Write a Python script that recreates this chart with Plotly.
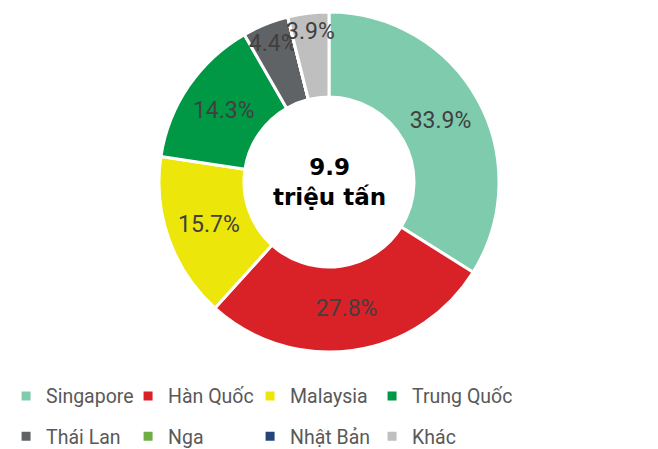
import plotly.graph_objects as go

categories = ["Singapore", "Hàn Quốc", "Malaysia", "Trung Quốc", "Thái Lan", "Nga", "Nhật Bản", "Khác"]
shares = [33.9, 27.8, 15.7, 14.3, 4.4, 0.0, 0.0, 3.9]
colors = ["#7FCBAE", "#D92128", "#EDE60A", "#009845", "#606365", "#70AD47", "#264478", "#BFBFBF"]
center_value = "9.9"
center_unit = "triệu tấn"

FONT = "Roboto"

templates = ["" if v == 0 else "%{percent:.1%}" for v in shares]

fig = go.Figure()
fig.add_trace(go.Pie(
    labels=categories,
    values=shares,
    sort=False,
    direction="clockwise",
    rotation=0,
    hole=0.5,
    marker=dict(colors=colors, line=dict(color="white", width=3)),
    texttemplate=templates,
    textposition="inside",
    insidetextorientation="horizontal",
    textfont=dict(family=FONT, size=23, color="#404040"),
    showlegend=False,
    hoverinfo="label+percent",
    domain=dict(x=[0, 1], y=[0, 1]),
))

# legend entries (two rows of four)
for i, (name, col) in enumerate(zip(categories, colors)):
    fig.add_trace(go.Scatter(
        x=[None], y=[None], mode="markers", name=name,
        marker=dict(symbol="square", size=9, color=col),
        legend="legend" if i < 4 else "legend2",
        xaxis="x", yaxis="y", hoverinfo="skip",
    ))
# blank spacer entries so the last column's text is not clipped
for lg in ["legend", "legend2"]:
    fig.add_trace(go.Scatter(
        x=[None], y=[None], mode="markers", name=" ",
        marker=dict(symbol="square", size=1, color="rgba(0,0,0,0)"),
        legend=lg, xaxis="x", yaxis="y", hoverinfo="skip",
    ))

legend_common = dict(
    orientation="h",
    entrywidth=77,
    entrywidthmode="pixels",
    font=dict(family=FONT, size=19.5, color="#595959"),
    xanchor="left",
    yanchor="middle",
    x=-0.003,
    bgcolor="rgba(0,0,0,0)",
    itemclick=False,
    itemdoubleclick=False,
)

fig.update_layout(
    width=658,
    height=449,
    margin=dict(l=0, r=16, t=4, b=105, autoexpand=False),
    paper_bgcolor="white",
    plot_bgcolor="white",
    xaxis=dict(visible=False),
    yaxis=dict(visible=False),
    legend=dict(**legend_common, y=-0.130),
    legend2=dict(**legend_common, y=-0.249),
    uniformtext=dict(minsize=23, mode="show"),
    annotations=[dict(
        text=f"<b>{center_value}</b><br><b>{center_unit}</b>",
        x=0.5, y=0.5, xref="paper", yref="paper",
        showarrow=False,
        font=dict(family="DejaVu Sans", size=23, color="#000000"),
    )],
)

fig.write_html("out.html")
